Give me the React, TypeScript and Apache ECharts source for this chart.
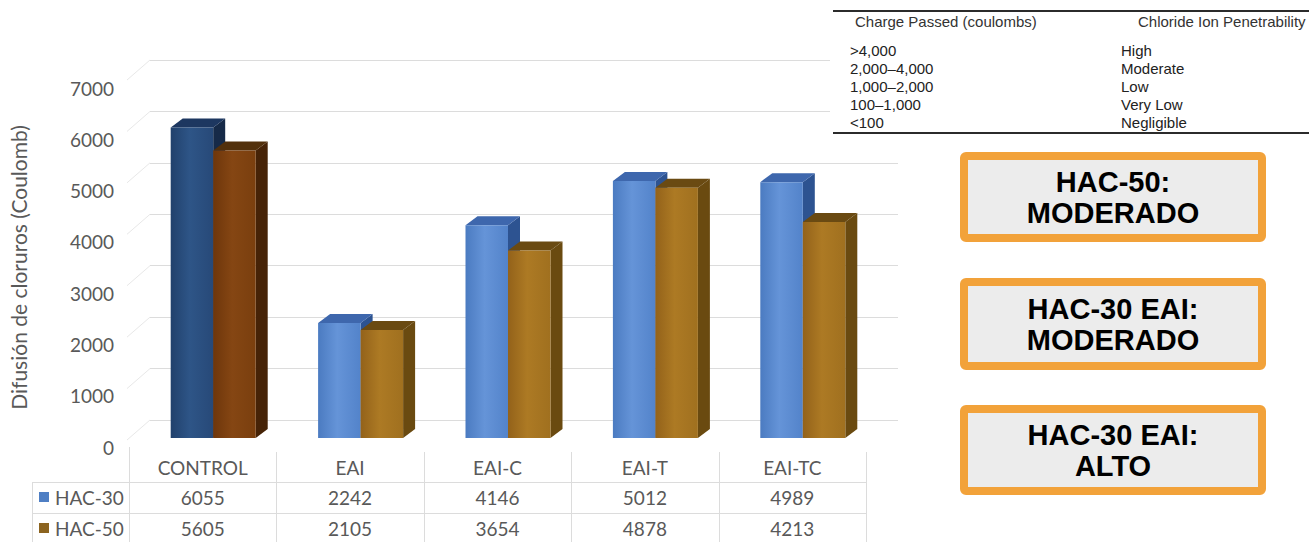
import React, { useEffect, useRef } from 'react';
import * as echarts from 'echarts';

// ---- data ----
const categories = ['CONTROL', 'EAI', 'EAI-C', 'EAI-T', 'EAI-TC'];
const seriesNames = ['HAC-30', 'HAC-50'];
const hac30 = [6055, 2242, 4146, 5012, 4989];
const hac50 = [5605, 2105, 3654, 4878, 4213];
const yTicks = [0, 1000, 2000, 3000, 4000, 5000, 6000, 7000];
const yTitle = 'Difusión de cloruros (Coulomb)';

const classHeader = ['Charge Passed (coulombs)', 'Chloride Ion Penetrability'];
const chargeRanges = ['>4,000', '2,000–4,000', '1,000–2,000', '100–1,000', '<100'];
const penetrability = ['High', 'Moderate', 'Low', 'Very Low', 'Negligible'];

const ratingBoxes = [
  ['HAC-50:', 'MODERADO'],
  ['HAC-30 EAI:', 'MODERADO'],
  ['HAC-30 EAI:', 'ALTO'],
];

// ---- styling ----
const FONT = 'Lato, "Open Sans", sans-serif';
const TEXT_GRAY = '#595959';
const GRID_LINE = '#dcdcdc';

// plot area of the bars (front plane)
const PLOT = { left: 129, width: 737, top: 79, height: 359 };
// back wall of the 3D box
const WALL = { left: 150, width: 748, top: 60, height: 360 };
// position of the value-axis labels
const LABELS = { left: 129, width: 737, top: 88, height: 359 };

const BAR_W = 42.5; // front face width
const SHIFT = 10.5; // pair offset from category centre
const DX = 12; // depth offset to the right
const DY = 9; // depth offset upward

type Faces = { front: string[]; top: string; side: string };
const palette: { normal: Faces; control: Faces }[] = [
  {
    normal: { front: ['#4b7bc1', '#6594d8', '#5383ca'], top: '#3e67ad', side: '#2d5391' },
    control: { front: ['#21416c', '#2e5587', '#274978'], top: '#1d3760', side: '#162a48' },
  },
  {
    normal: { front: ['#93621a', '#ad7a24', '#a0701f'], top: '#6a4a12', side: '#6a4a10' },
    control: { front: ['#6e360b', '#854613', '#7a3f0e'], top: '#52300c', side: '#462307' },
  },
];
const legendColors = ['#4f7fc4', '#8c6420'];
const ORANGE = '#f2a23a';

function bar3d(s: number) {
  return (_params: any, api: any) => {
    const idx = api.value(0);
    const val = api.value(1);
    const top = api.coord([idx, val]);
    const base = api.coord([idx, 0]);
    const x0 = top[0] + SHIFT + (s === 0 ? -BAR_W : 0);
    const y1 = top[1];
    const y0 = base[1];
    const pal = idx === 0 ? palette[s].control : palette[s].normal;
    const grad = new echarts.graphic.LinearGradient(0, 0, 1, 0, [
      { offset: 0, color: pal.front[0] },
      { offset: 0.45, color: pal.front[1] },
      { offset: 1, color: pal.front[2] },
    ]);
    return {
      type: 'group',
      children: [
        {
          type: 'polygon',
          shape: {
            points: [
              [x0 + BAR_W, y1],
              [x0 + BAR_W + DX, y1 - DY],
              [x0 + BAR_W + DX, y0 - DY],
              [x0 + BAR_W, y0],
            ],
          },
          style: { fill: pal.side },
        },
        {
          type: 'polygon',
          shape: {
            points: [
              [x0, y1],
              [x0 + BAR_W, y1],
              [x0 + BAR_W + DX, y1 - DY],
              [x0 + DX, y1 - DY],
            ],
          },
          style: { fill: pal.top },
        },
        {
          type: 'rect',
          shape: { x: x0, y: y1, width: BAR_W, height: y0 - y1 },
          style: { fill: grad },
        },
      ],
    };
  };
}

function sideWall(_params: any, api: any) {
  const p = api.coord([0, api.value(0)]);
  return {
    type: 'line',
    shape: { x1: p[0], y1: p[1], x2: p[0] - 23, y2: p[1] + 20 },
    style: { stroke: '#e8e8e8', lineWidth: 1 },
  };
}

function buildGraphics() {
  const g: any[] = [];
  const colW = PLOT.width / categories.length;
  const tableRight = PLOT.left + PLOT.width;
  const line = (x1: number, y1: number, x2: number, y2: number, stroke = GRID_LINE, lw = 1, z = 5) =>
    g.push({ type: 'line', shape: { x1, y1, x2, y2 }, style: { stroke, lineWidth: lw }, z });

  // data table grid
  line(32, 482.5, tableRight, 482.5);
  line(32, 513.5, tableRight, 513.5);
  line(32.5, 482, 32.5, 542);
  line(PLOT.left + 0.5, 447, PLOT.left + 0.5, 542);
  for (let i = 1; i <= categories.length; i++) {
    const x = Math.round(PLOT.left + colW * i) + 0.5;
    line(x, 452, x, 542);
  }
  // row keys
  seriesNames.forEach((name, i) => {
    const cy = 497 + i * 31;
    g.push({ type: 'rect', shape: { x: 39, y: cy - 5, width: 10, height: 10 }, style: { fill: legendColors[i] }, z: 5 });
    g.push({
      type: 'text',
      x: 55,
      y: cy,
      style: { text: name, fill: TEXT_GRAY, font: `19px ${FONT}`, textAlign: 'left', textVerticalAlign: 'middle' },
      z: 5,
    });
  });

  // ASTM classification table
  g.push({ type: 'rect', shape: { x: 830, y: 0, width: 479, height: 140 }, style: { fill: '#ffffff' }, z: 6 });
  line(833, 11, 1309, 11, '#2b2b2b', 2, 7);
  line(833, 133, 1309, 133, '#2b2b2b', 2, 7);
  const small = `15px "Liberation Sans", Arial, sans-serif`;
  const txt = (text: string, x: number, y: number, fill = '#222') =>
    g.push({ type: 'text', x, y, style: { text, fill, font: small, textAlign: 'left', textVerticalAlign: 'middle' }, z: 7 });
  txt(classHeader[0], 855, 21, '#333');
  txt(classHeader[1], 1138, 21, '#333');
  chargeRanges.forEach((r, i) => {
    const y = 50 + i * 18.2;
    txt(r, 850, y);
    txt(penetrability[i], 1121, y);
  });

  // rating boxes
  const boxTops = [152, 278, 405];
  const boxHeights = [90, 92, 90];
  ratingBoxes.forEach((lines, i) => {
    const y = boxTops[i];
    const h = boxHeights[i];
    g.push({
      type: 'rect',
      shape: { x: 964, y: y + 4, width: 298, height: h - 8, r: 2 },
      style: { fill: '#ececec', stroke: ORANGE, lineWidth: 8 },
      z: 6,
    });
    g.push({
      type: 'text',
      x: 1113,
      y: y + h / 2,
      style: {
        text: lines.join('\n'),
        fill: '#000',
        font: `bold 29px "Liberation Sans", Arial, sans-serif`,
        lineHeight: 31,
        textAlign: 'center',
        textVerticalAlign: 'middle',
      },
      z: 7,
    });
  });
  return g;
}

export default function App() {
  const ref = useRef<HTMLDivElement>(null);

  useEffect(() => {
    if (!ref.current) return;
    const chart = echarts.init(ref.current, undefined, { renderer: 'svg' });
    const grid = (r: { left: number; width: number; top: number; height: number }) => ({
      left: r.left,
      top: r.top,
      width: r.width,
      height: r.height,
      containLabel: false,
    });
    chart.setOption({
      animation: false,
      backgroundColor: '#ffffff',
      grid: [grid(PLOT), grid(WALL), grid(LABELS)],
      xAxis: [
        {
          gridIndex: 0,
          type: 'category',
          data: categories,
          axisLine: { show: false },
          axisTick: { show: false },
          axisLabel: {
            interval: 0,
            margin: 14,
            formatter: (_v: string, i: number) =>
              `{c|${categories[i]}}\n{v|${hac30[i]}}\n{v|${hac50[i]}}`,
            rich: {
              c: { fontSize: 19, lineHeight: 30.5, color: TEXT_GRAY, fontFamily: FONT },
              v: { fontSize: 19, lineHeight: 30.5, color: TEXT_GRAY, fontFamily: FONT },
            },
          },
        },
        { gridIndex: 1, type: 'value', min: 0, max: 1, show: false },
        { gridIndex: 2, type: 'value', min: 0, max: 1, show: false },
      ],
      yAxis: [
        { gridIndex: 0, type: 'value', min: 0, max: 7000, interval: 1000, show: false },
        {
          gridIndex: 1,
          type: 'value',
          min: 0,
          max: 7000,
          interval: 1000,
          axisLabel: { show: false },
          axisLine: { show: false },
          axisTick: { show: false },
          splitLine: { lineStyle: { color: GRID_LINE, width: 1 } },
        },
        {
          gridIndex: 2,
          type: 'value',
          min: 0,
          max: 7000,
          interval: 1000,
          axisLine: { show: false },
          axisTick: { show: false },
          splitLine: { show: false },
          axisLabel: {
            margin: 19,
            color: TEXT_GRAY,
            fontSize: 19,
            fontFamily: FONT,
            formatter: (v: number) => String(v),
          },
          name: yTitle,
          nameLocation: 'middle',
          nameGap: 104,
          nameRotate: 90,
          nameTextStyle: { color: TEXT_GRAY, fontSize: 21, fontFamily: FONT },
        },
      ],
      series: [
        {
          type: 'custom',
          name: 'wall',
          xAxisIndex: 1,
          yAxisIndex: 1,
          data: yTicks.map((v) => [v]),
          encode: { y: 0 },
          renderItem: sideWall,
          silent: true,
        },
        ...[hac30, hac50].map((vals, s) => ({
          type: 'custom',
          name: seriesNames[s],
          xAxisIndex: 0,
          yAxisIndex: 0,
          data: vals.map((v, i) => [i, v]),
          encode: { x: 0, y: 1 },
          renderItem: bar3d(s),
          z: 3 + s,
        })),
      ],
      graphic: buildGraphics(),
    });
    return () => chart.dispose();
  }, []);

  return (
    <div
      ref={ref}
      style={{ position: 'fixed', left: 0, top: 0, width: 1309, height: 542, background: '#fff' }}
    />
  );
}
